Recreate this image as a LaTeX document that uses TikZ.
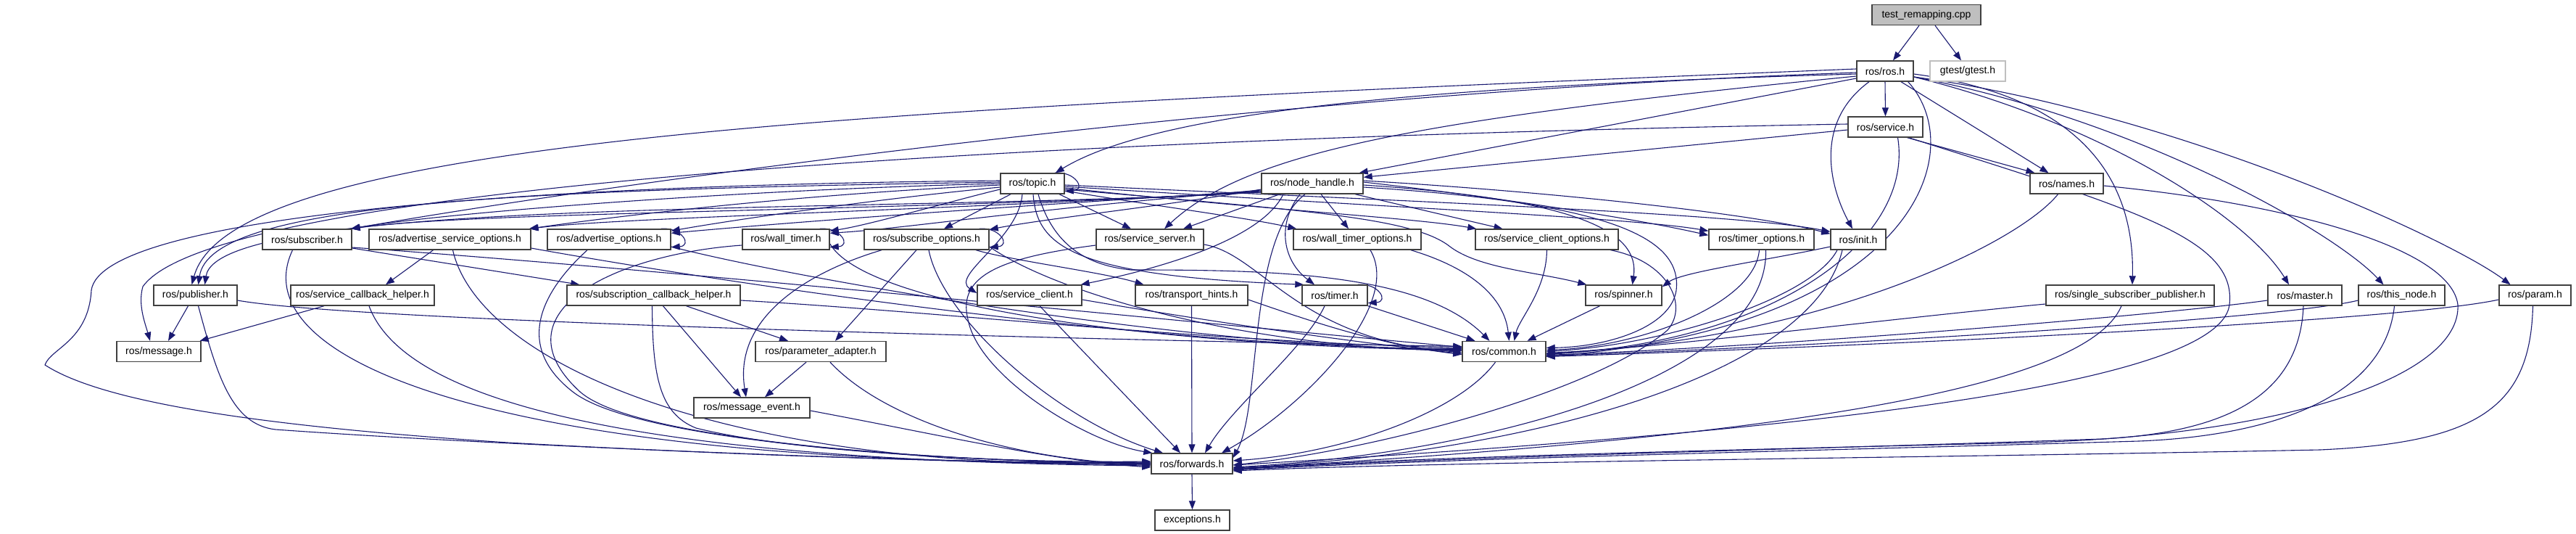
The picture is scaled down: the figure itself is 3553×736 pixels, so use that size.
\documentclass[tikz,border=0pt]{standalone}
\usepackage{fontspec}
\setmainfont{Liberation Sans}
\usetikzlibrary{arrows.meta}
\definecolor{edgec}{HTML}{191970}
\definecolor{boxc}{HTML}{404040}
\definecolor{greyfill}{HTML}{BFBFBF}
\pgfdeclarelayer{bglayer}
\pgfdeclarelayer{edgelayer}
\pgfsetlayers{bglayer,edgelayer,main}
\newcommand\sloop[1]{\draw[lnk] ([xshift=-14pt]#1.north east) .. controls ([xshift=14pt,yshift=3pt]#1.north east) and ([xshift=30pt,yshift=6pt]#1.south east) .. ([yshift=4pt]#1.south east);}
\begin{document}
\begin{tikzpicture}[x=1pt,y=-1pt,
  box/.style={draw=boxc,line width=1.4pt,fill=white,minimum height=28pt,inner sep=0pt,font=\fontsize{14pt}{16pt}\selectfont},
  lnk/.style={draw=edgec,line width=1.1pt,-{Triangle[length=12pt,width=9pt]}}]
\useasboundingbox (0,0) rectangle (3553,736);
\begin{pgfonlayer}{bglayer}
\fill[white] (0,0) rectangle (3553,736);
\end{pgfonlayer}
% nodes
\node[box,minimum width=150pt,fill=greyfill] (trc) at (2657,20.5) {test\_remapping.cpp};
\node[box,minimum width=78pt] (ros) at (2600,98) {ros/ros.h};
\node[box,minimum width=104pt,draw=greyfill] (gtest) at (2714,98) {gtest/gtest.h};
\node[box,minimum width=103pt] (service) at (2600.5,175) {ros/service.h};
\node[box,minimum width=88pt] (topic) at (1424,253) {ros/topic.h};
\node[box,minimum width=140pt] (nh) at (1810,253) {ros/node\_handle.h};
\node[box,minimum width=101pt] (names) at (2850.5,253) {ros/names.h};
\node[box,minimum width=123pt] (subscriber) at (423.5,330) {ros/subscriber.h};
\node[box,minimum width=223pt] (aso) at (620.5,330) {ros/advertise\_service\_options.h};
\node[box,minimum width=170pt] (ao) at (840,330) {ros/advertise\_options.h};
\node[box,minimum width=120pt] (wt) at (1084,330) {ros/wall\_timer.h};
\node[box,minimum width=172pt] (so) at (1278,330) {ros/subscribe\_options.h};
\node[box,minimum width=148pt] (ss) at (1586,330) {ros/service\_server.h};
\node[box,minimum width=176pt] (wto) at (1872,330) {ros/wall\_timer\_options.h};
\node[box,minimum width=197pt] (sco) at (2133.5,330) {ros/service\_client\_options.h};
\node[box,minimum width=145pt] (topt) at (2429.5,330) {ros/timer\_options.h};
\node[box,minimum width=76pt] (init) at (2563,330) {ros/init.h};
\node[box,minimum width=115pt] (pub) at (269.5,407) {ros/publisher.h};
\node[box,minimum width=198pt] (sch) at (500,407) {ros/service\_callback\_helper.h};
\node[box,minimum width=239pt] (subch) at (901.5,407) {ros/subscription\_callback\_helper.h};
\node[box,minimum width=144pt] (scl) at (1420,407) {ros/service\_client.h};
\node[box,minimum width=155pt] (th) at (1643.5,407) {ros/transport\_hints.h};
\node[box,minimum width=90pt] (timer) at (1841,407) {ros/timer.h};
\node[box,minimum width=105pt] (spinner) at (2239.5,407) {ros/spinner.h};
\node[box,minimum width=232pt] (ssp) at (2938,407) {ros/single\_subscriber\_publisher.h};
\node[box,minimum width=102pt] (master) at (3179,407) {ros/master.h};
\node[box,minimum width=119pt] (thisnode) at (3312.5,407) {ros/this\_node.h};
\node[box,minimum width=99pt] (param) at (3496.5,407) {ros/param.h};
\node[box,minimum width=116pt] (message) at (219,484.5) {ros/message.h};
\node[box,minimum width=180pt] (pa) at (1132,484.5) {ros/parameter\_adapter.h};
\node[box,minimum width=115pt] (common) at (2074.5,484.5) {ros/common.h};
\node[box,minimum width=160pt] (me) at (1037,562) {ros/message\_event.h};
\node[box,minimum width=112pt] (fwd) at (1644,639) {ros/forwards.h};
\node[box,minimum width=103pt] (exc) at (1644.5,717) {exceptions.h};
\begin{pgfonlayer}{edgelayer}
% top
\draw[lnk] ([xshift=-10pt]trc.south) -- ([xshift=11pt]ros.north);
\draw[lnk] ([xshift=12pt]trc.south) -- ([xshift=-9pt]gtest.north);
% ros.h
\draw[lnk] (ros.south) -- (service.north);
\draw[lnk] ([yshift=-4pt]ros.west) .. controls (2000,118) and (1600,150) .. ([xshift=-13pt]topic.north east);
\draw[lnk] ([yshift=-10pt]ros.west) -- ([xshift=-6pt]nh.north east);
\draw[lnk] ([yshift=-2pt]ros.west) .. controls (1700,130) and (800,260) .. ([xshift=-1pt]subscriber.north east);
\draw[lnk] ([yshift=3pt]ros.west) .. controls (1200,150) and (320,190) .. ([xshift=-5pt]pub.north);
\draw[lnk] ([yshift=-7pt]ros.west) .. controls (1950,165) and (1720,210) .. ([xshift=20pt]ss.north);
\draw[lnk] ([xshift=-22pt]ros.south) .. controls (2500,170) and (2525,260) .. ([xshift=-8pt]init.north);
\draw[lnk] ([xshift=-8pt]ros.south east) .. controls (2720,210) and (2640,450) .. ([yshift=-7pt]common.east);
\draw[lnk] ([xshift=22pt]ros.south) -- ([xshift=-25pt]names.north);
\draw[lnk] ([yshift=-4pt]ros.east) .. controls (2850,130) and (2945,230) .. ([xshift=3pt]ssp.north);
\draw[lnk] ([yshift=-8pt]ros.east) .. controls (2900,170) and (3100,300) .. ([xshift=-22pt]master.north);
\draw[lnk] ([yshift=-8pt]ros.east) .. controls (2950,165) and (3220,320) .. ([xshift=-25pt]thisnode.north);
\draw[lnk] ([yshift=-8pt]ros.east) .. controls (3000,155) and (3380,330) .. ([xshift=-34pt]param.north);
% service.h
\draw[lnk] ([yshift=-4pt]service.west) -- ([yshift=-6pt]nh.north east);
\draw[lnk] ([xshift=30pt]service.south) -- ([xshift=-44pt]names.north);
\draw[lnk] ([xshift=17pt]service.south) .. controls (2640,330) and (2450,470) .. ([yshift=-4pt]common.east);
\draw[lnk] ([xshift=32pt]service.south) .. controls (2950,290) and (3085,330) .. (3075,420) .. controls (3060,540) and (2400,600) .. ([yshift=-2pt]fwd.east);
\draw[lnk] ([yshift=4pt]service.west) .. controls (1500,190) and (300,250) .. (197,395) .. controls (190,420) and (200,445) .. ([xshift=-12pt]message.north);
% topic.h
\sloop{topic}
\draw[lnk] ([yshift=2pt]topic.west) .. controls (700,262) and (290,280) .. ([xshift=4pt]pub.north);
\draw[lnk] (topic.west) .. controls (1000,262) and (600,295) .. ([xshift=-2pt]subscriber.north east);
\draw[lnk] ([yshift=-2pt]topic.west) .. controls (1100,268) and (850,298) .. ([xshift=-3pt]aso.north east);
\draw[lnk] ([yshift=-5pt]topic.west) .. controls (1200,275) and (1000,305) .. ([yshift=-3pt]ao.north east);
\draw[lnk] ([yshift=-8pt]topic.west) .. controls (1320,275) and (1200,310) .. ([yshift=-3pt]wt.north east);
\draw[lnk] ([xshift=-30pt]topic.south) -- ([xshift=24pt]so.north);
\draw[lnk] ([xshift=37pt]topic.south) -- ([xshift=-26pt]ss.north);
\draw[lnk] ([xshift=-14pt]topic.south) .. controls (1405,330) and (1310,380) .. ([yshift=3pt]scl.west);
\draw[lnk] ([xshift=1pt]topic.south) .. controls (1430,340) and (1480,380) .. ([xshift=3pt]timer.north west);
\draw[lnk] ([xshift=8pt]topic.south) .. controls (1450,330) and (1490,365) .. (1560,372) .. controls (1750,372) and (1960,375) .. ([xshift=-20pt]common.north);
\draw[lnk] ([yshift=-10pt]topic.east) .. controls (1600,285) and (1720,300) .. ([xshift=5pt]wto.north west);
\draw[lnk] ([yshift=-6pt]topic.east) .. controls (1750,290) and (1950,300) .. ([xshift=2pt]sco.north west);
\draw[lnk] ([yshift=-4pt]topic.east) .. controls (1900,285) and (2250,300) .. ([yshift=-3pt]topt.north west);
\draw[lnk] ([yshift=-2pt]topic.east) .. controls (2000,280) and (2400,295) .. ([yshift=-4pt]init.north west);
\draw[lnk] ([yshift=-8pt]topic.east) .. controls (1800,290) and (1950,300) .. (2000,340) .. controls (2040,370) and (2120,375) .. ([xshift=2pt]spinner.north west);
\draw[lnk] ([yshift=4pt]topic.west) .. controls (700,255) and (140,300) .. (126,400) .. controls (122,470) and (70,480) .. (62,503) .. controls (150,560) and (400,590) .. (700,610) .. controls (1100,632) and (1400,638) .. ([yshift=1pt]fwd.west);
% node_handle.h
\draw[lnk] ([yshift=-12pt]nh.west) .. controls (1200,295) and (300,270) .. ([xshift=13pt]pub.north);
\draw[lnk] ([yshift=-12pt]nh.west) .. controls (1200,292) and (650,292) .. ([xshift=-1pt]subscriber.north east);
\draw[lnk] ([yshift=-11pt]nh.west) .. controls (1250,292) and (850,300) .. ([xshift=-2pt]aso.north east);
\draw[lnk] ([yshift=-10pt]nh.west) .. controls (1300,290) and (1050,310) .. ([yshift=-6pt]ao.north east);
\draw[lnk] ([yshift=-9pt]nh.west) .. controls (1400,290) and (1250,315) .. ([yshift=-6pt]wt.north east);
\draw[lnk] ([yshift=-8pt]nh.west) .. controls (1600,285) and (1450,300) .. ([yshift=-1pt]so.north east);
\draw[lnk] ([xshift=-45pt]nh.south) -- ([xshift=46pt]ss.north);
\draw[lnk] ([xshift=-40pt]nh.south) .. controls (1740,330) and (1600,370) .. ([xshift=-2pt]scl.north east);
\draw[lnk] ([xshift=-17pt]nh.south) .. controls (1760,310) and (1770,360) .. ([xshift=-28pt]timer.north);
\draw[lnk] ([xshift=12pt]nh.south) -- ([xshift=-12pt]wto.north);
\draw[lnk] ([xshift=59pt]nh.south) -- ([xshift=-61pt]sco.north);
\draw[lnk] ([yshift=2pt]nh.east) .. controls (2050,270) and (2250,300) .. ([yshift=-9pt]topt.north west);
\draw[lnk] ([yshift=4pt]nh.east) .. controls (2150,265) and (2420,295) .. ([yshift=-7pt]init.north west);
\draw[lnk] ([yshift=-2pt]nh.east) .. controls (2180,275) and (2262,320) .. ([xshift=12pt]spinner.north);
\draw[lnk] ([yshift=-5pt]nh.east) .. controls (2230,280) and (2320,330) .. (2312,400) .. controls (2305,450) and (2220,478) .. ([yshift=5pt]common.east);
\draw[lnk] ([xshift=-10pt]nh.south) .. controls (1720,330) and (1740,560) .. ([yshift=8pt]fwd.east);
% subscriber.h
\draw[lnk] ([yshift=-12pt]subscriber.east) -- ([xshift=18pt]subch.north west);
\draw[lnk] ([yshift=-11pt]subscriber.east) .. controls (900,370) and (1600,440) .. ([yshift=6pt]common.west);
\draw[lnk] ([xshift=-20pt]subscriber.south) .. controls (330,500) and (700,645) .. ([yshift=2pt]fwd.west);
% advertise_service_options.h
\draw[lnk] ([xshift=-23pt]aso.south) -- ([xshift=32pt]sch.north);
\draw[lnk] ([xshift=4pt]aso.south) .. controls (660,500) and (1000,650) .. ([yshift=1pt]fwd.west);
\draw[lnk] ([yshift=-12pt]aso.east) .. controls (1000,390) and (1600,480) .. ([yshift=4pt]common.west);
% advertise_options.h
\sloop{ao}
\draw[lnk] ([xshift=-30pt]ao.south) .. controls (760,390) and (700,470) .. (790,540) .. controls (880,610) and (1300,636) .. (fwd.west);
\draw[lnk] ([yshift=-10pt]ao.east) .. controls (1100,385) and (1650,480) .. ([yshift=3pt]common.west);
% wall_timer.h
\sloop{wt}
\draw[lnk] ([yshift=-8pt]wt.west) .. controls (850,350) and (680,430) .. (800,540) .. controls (880,610) and (1300,635) .. ([yshift=-1pt]fwd.west);
\draw[lnk] ([yshift=-6pt]wt.east) .. controls (1200,430) and (1650,478) .. ([yshift=2pt]common.west);
% subscribe_options.h
\sloop{so}
\draw[lnk] ([xshift=-14pt]so.south) -- ([xshift=20pt]pa.north);
\draw[lnk] ([xshift=-62pt]so.south) .. controls (1130,370) and (1010,430) .. ([xshift=-8pt]me.north);
\draw[lnk] ([xshift=68pt]so.south) .. controls (1400,360) and (1520,375) .. ([xshift=-66pt]th.north);
\draw[lnk] ([xshift=3pt]so.south) .. controls (1300,440) and (1460,580) .. ([xshift=-40pt]fwd.north);
\draw[lnk] ([yshift=-10pt]so.east) .. controls (1450,400) and (1700,478) .. ([yshift=1pt]common.west);
% service_server.h
\draw[lnk] ([yshift=-8pt]ss.west) .. controls (1380,355) and (1320,380) .. (1335,440) .. controls (1350,520) and (1500,610) .. ([xshift=2pt]fwd.north west);
\draw[lnk] ([yshift=-7pt]ss.east) .. controls (1740,350) and (1790,470) .. ([yshift=-1pt]common.west);
% wall_timer_options.h
\draw[lnk] ([xshift=18pt]wto.south) .. controls (1935,420) and (1800,560) .. ([xshift=41pt]fwd.north);
\draw[lnk] ([xshift=74pt]wto.south) .. controls (2030,370) and (2075,410) .. ([xshift=7pt]common.north);
% service_client_options.h
\draw[lnk] (sco.south) .. controls (2133,400) and (2095,440) .. ([xshift=14pt]common.north);
\draw[lnk] ([xshift=88pt]sco.south) .. controls (2300,360) and (2330,420) .. (2300,455) .. controls (2200,540) and (1900,620) .. ([yshift=-2pt]fwd.east);
% timer_options.h
\draw[lnk] ([xshift=-3pt]topt.south) .. controls (2420,420) and (2260,478) .. ([yshift=2pt]common.east);
\draw[lnk] ([xshift=6pt]topt.south) .. controls (2440,520) and (2050,625) .. ([yshift=-5pt]fwd.east);
% init.h
\draw[lnk] ([yshift=-10pt]init.west) .. controls (2430,360) and (2320,375) .. ([yshift=-3pt]spinner.north east);
\draw[lnk] ([xshift=-29pt]init.south) .. controls (2500,410) and (2300,475) .. (common.east);
\draw[lnk] ([xshift=-22pt]init.south) .. controls (2500,520) and (2100,625) .. ([yshift=-6pt]fwd.east);
% names.h
\draw[lnk] ([xshift=-12pt]names.south) .. controls (2780,340) and (2500,470) .. ([yshift=-2pt]common.east);
\draw[lnk] ([yshift=-3pt]names.east) .. controls (3150,280) and (3380,340) .. (3390,420) .. controls (3395,520) and (3150,600) .. (2800,610) .. controls (2300,622) and (1900,632) .. ([yshift=-8pt]fwd.east);
% master / this_node / param / single_subscriber_publisher
\draw[lnk] ([yshift=-7pt]master.west) .. controls (3000,432) and (2500,475) .. ([yshift=-5pt]common.east);
\draw[lnk] ([xshift=-2pt]master.south) .. controls (3172,540) and (3080,595) .. (2900,605) .. controls (2400,622) and (2000,630) .. ([yshift=-8pt]fwd.east);
\draw[lnk] ([yshift=-7pt]thisnode.west) .. controls (3150,440) and (2500,478) .. ([yshift=-6pt]common.east);
\draw[lnk] ([xshift=-10pt]thisnode.south) .. controls (3290,540) and (3150,600) .. (2950,608) .. controls (2400,624) and (2000,632) .. ([yshift=-9pt]fwd.east);
\draw[lnk] ([yshift=-6pt]param.west) .. controls (3300,445) and (2500,480) .. ([yshift=-7pt]common.east);
\draw[lnk] ([xshift=-3pt]param.south) .. controls (3490,560) and (3420,610) .. (3200,620) .. controls (2600,632) and (2000,636) .. ([yshift=-10pt]fwd.east);
\draw[lnk] ([yshift=-12pt]ssp.west) .. controls (2600,440) and (2300,478) .. ([yshift=-3pt]common.east);
\draw[lnk] ([xshift=-12pt]ssp.south) .. controls (2880,530) and (2500,600) .. ([yshift=-7pt]fwd.east);
% publisher.h
\draw[lnk] ([xshift=-10pt]pub.south) -- ([xshift=13pt]message.north);
\draw[lnk] ([xshift=4pt]pub.south) .. controls (300,520) and (320,585) .. (380,592) .. controls (700,615) and (1300,638) .. ([yshift=-2pt]fwd.west);
\draw[lnk] ([yshift=-7pt]pub.east) .. controls (500,445) and (1600,470) .. ([yshift=7pt]common.west);
% service_callback_helper.h
\draw[lnk] ([xshift=-53pt]sch.south) -- ([xshift=-2pt]message.north east);
\draw[lnk] ([xshift=9pt]sch.south) .. controls (560,560) and (900,635) .. ([yshift=-3pt]fwd.west);
% subscription_callback_helper.h
\draw[lnk] ([xshift=13pt]subch.south) -- ([xshift=-15pt]me.north);
\draw[lnk] ([xshift=45pt]subch.south) -- ([xshift=-45pt]pa.north);
\draw[lnk] ([xshift=-2pt]subch.south) .. controls (900,520) and (910,570) .. (960,590) .. controls (1100,625) and (1400,638) .. ([yshift=3pt]fwd.west);
\draw[lnk] ([yshift=-7pt]subch.east) .. controls (1300,430) and (1650,470) .. ([yshift=5pt]common.west);
% parameter_adapter.h / message_event.h
\draw[lnk] ([xshift=-20pt]pa.south) -- ([xshift=18pt]me.north);
\draw[lnk] ([xshift=13pt]pa.south) .. controls (1220,580) and (1400,635) .. ([yshift=-1pt]fwd.west);
\draw[lnk] ([yshift=-4pt]me.east) .. controls (1300,600) and (1450,635) .. ([yshift=-5pt]fwd.west);
% service_client.h / transport_hints.h / timer.h / spinner.h
\draw[lnk] ([xshift=14pt]scl.south) -- ([xshift=-16pt]fwd.north);
\draw[lnk] ([yshift=-6pt]scl.east) .. controls (1650,440) and (1850,470) .. ([yshift=-3pt]common.west);
\draw[lnk] (th.south) -- (fwd.north);
\draw[lnk] ([yshift=-6pt]th.east) .. controls (1800,440) and (1900,475) .. ([yshift=-4pt]common.west);
\sloop{timer}
\draw[lnk] ([xshift=-14pt]timer.south) .. controls (1800,480) and (1700,560) .. ([xshift=18pt]fwd.north);
\draw[lnk] (timer.south east) -- ([xshift=-40pt]common.north);
\draw[lnk] ([xshift=-33pt]spinner.south) -- ([xshift=32pt]common.north);
% common.h / forwards.h
\draw[lnk] ([xshift=-12pt]common.south) .. controls (2010,570) and (1850,625) .. ([yshift=4pt]fwd.east);
\draw[lnk] (fwd.south) -- (exc.north);
\end{pgfonlayer}
\end{tikzpicture}
\end{document}
